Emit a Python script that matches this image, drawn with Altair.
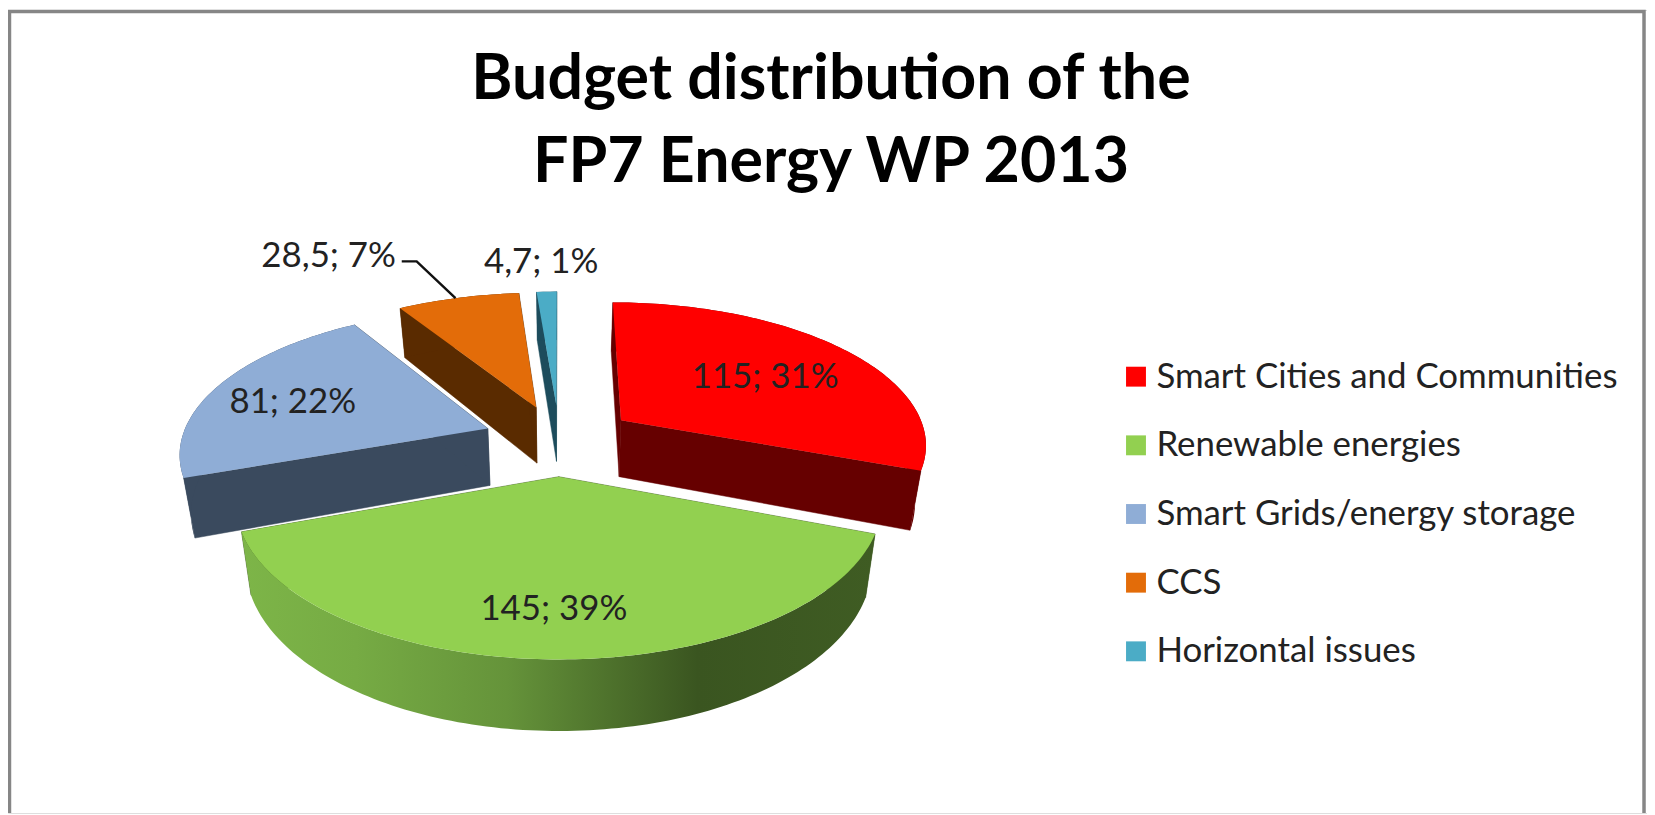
import math
import altair as alt
import pandas as pd

# ---- values
names = ["Smart Cities and Communities", "Renewable energies",
         "Smart Grids/energy storage", "CCS", "Horizontal issues"]
budgets = [115, 145, 81, 28.5, 4.7]
label_texts = ["115; 31%", "145; 39%", "81; 22%", "28,5; 7%", "4,7; 1%"]

# ---- styling
top_colors = ["#ff0000", "#92d050", "#8fadd6", "#e36c09", "#4bacc6"]
wall_colors = ["#660000", "#3f5a23", "#3a4a5e", "#5a2b00", "#1d4c5c"]
FONT = "Lato"
INK = "#222222"

# ---- layout of the tilted, exploded pie (projection of the pie plane to the page)
CX, CY = 562, 440
RX, RY = 308, 142.3
PERSP = 0.155
DEPTH = 58
SHRINK = 0.97
EXPLODE = 0.25
label_radius = [0.63, 0.76, 0.70, 1.35, 1.30]
label_shift = [(0, 3), (-3, 0), (-4, 4), (-107, -10), (-3, -1)]
PAINT_ORDER = [4, 3, 2, 0, 1]


def top_pt(u, v):
    s = 1 / (1 - PERSP * v)
    return CX + RX * u * s, CY + RY * v * s


def low_pt(u, v):
    x, y = top_pt(u, v)
    s = 1 / (1 - PERSP * v)
    return CX + (x - CX) * SHRINK, y + DEPTH * s


total = sum(budgets)
slices = []
start = 0.0
for val in budgets:
    span = val / total * 2 * math.pi
    mid = start + span / 2
    apex = (EXPLODE * math.sin(mid), -EXPLODE * math.cos(mid))
    n = max(3, int(span / 0.02))
    arc = []
    for j in range(n + 1):
        a = start + span * j / n
        arc.append((apex[0] + math.sin(a), apex[1] - math.cos(a)))
    slices.append(dict(mid=mid, apex=apex, arc=arc))
    start += span


def frame_rows(key, name, pts):
    return [dict(poly=key, name=name, i=i, x=p[0], y=p[1]) for i, p in enumerate(pts)]


x_enc = alt.X("x:Q", scale=alt.Scale(domain=[8, 1655], nice=False, zero=False), axis=None)
y_enc = alt.Y("y:Q", scale=alt.Scale(domain=[8, 815], nice=False, zero=False, reverse=True), axis=None)
ord_enc = alt.Order("i:Q")

legend = alt.Legend(
    title=None, orient="none", legendX=1116, legendY=351, symbolType="square",
    symbolSize=400, symbolStrokeWidth=0, labelFont=FONT, labelFontSize=35,
    labelColor=INK, labelOffset=3, rowPadding=33, labelLimit=600, symbolOpacity=1,
)
fill_enc = alt.Fill("name:N", scale=alt.Scale(domain=names, range=top_colors),
                    sort=names, legend=legend)

layers = []

# frame of the picture, open at the bottom
frame = pd.DataFrame([
    dict(poly="f", i=0, x=9.5, y=815), dict(poly="f", i=1, x=9.5, y=9.5),
    dict(poly="f", i=2, x=1652, y=9.5), dict(poly="f", i=3, x=1652, y=815),
])
layers.append(alt.Chart(frame).mark_line(color="#868686", strokeWidth=3.5)
              .encode(x=x_enc, y=y_enc, order=ord_enc))

green_wall = alt.Gradient(
    gradient="linear", x1=0, x2=1, y1=0, y2=0,
    stops=[alt.GradientStop(color="#7db548", offset=0.0),
           alt.GradientStop(color="#76ab44", offset=0.18),
           alt.GradientStop(color="#65933a", offset=0.42),
           alt.GradientStop(color="#3a5520", offset=0.72),
           alt.GradientStop(color="#3f5c23", offset=1.0)],
)

for idx in PAINT_ORDER:
    sl = slices[idx]
    arc, apex = sl["arc"], sl["apex"]
    first, last = arc[0], arc[-1]
    radial = [
        [top_pt(*apex), top_pt(*first), low_pt(*first), low_pt(*apex)],
        [top_pt(*apex), top_pt(*last), low_pt(*last), low_pt(*apex)],
    ]
    outer = [top_pt(*p) for p in arc] + [low_pt(*p) for p in reversed(arc)]
    rows = []
    for k, pts in enumerate(radial):
        rows += frame_rows(f"r{idx}{k}", names[idx], pts)
    layers.append(alt.Chart(pd.DataFrame(rows)).mark_line(
        fill=wall_colors[idx], stroke=wall_colors[idx], strokeWidth=0.5,
        interpolate="linear-closed").encode(x=x_enc, y=y_enc, order=ord_enc, detail="poly:N"))
    outer_fill = green_wall if idx == 1 else wall_colors[idx]
    layers.append(alt.Chart(pd.DataFrame(frame_rows(f"o{idx}", names[idx], outer))).mark_line(
        fill=outer_fill, strokeOpacity=0, interpolate="linear-closed")
        .encode(x=x_enc, y=y_enc, order=ord_enc))
    top = [top_pt(*apex)] + [top_pt(*p) for p in arc]
    layers.append(alt.Chart(pd.DataFrame(frame_rows(f"t{idx}", names[idx], top))).mark_line(
        strokeOpacity=0, interpolate="linear-closed")
        .encode(x=x_enc, y=y_enc, order=ord_enc, fill=fill_enc))

# data labels
lab_rows = []
for idx, sl in enumerate(slices):
    u = sl["apex"][0] + label_radius[idx] * math.sin(sl["mid"])
    v = sl["apex"][1] - label_radius[idx] * math.cos(sl["mid"])
    x, y = top_pt(u, v)
    lab_rows.append(dict(x=x + label_shift[idx][0], y=y + label_shift[idx][1], t=label_texts[idx]))
layers.append(alt.Chart(pd.DataFrame(lab_rows)).mark_text(
    font=FONT, fontSize=35, color=INK, align="center", baseline="middle")
    .encode(x=x_enc, y=y_enc, text="t:N"))

# leader line of the CCS label
ccs_arc = slices[3]["arc"]
end = top_pt(*ccs_arc[int(len(ccs_arc) * 0.47)])
elbow = (end[0] - 39, end[1] - 37)
begin = (elbow[0] - 15, elbow[1])
leader = pd.DataFrame(frame_rows("l", "l", [begin, elbow, end]))
layers.append(alt.Chart(leader).mark_line(color="#111111", strokeWidth=2.5)
              .encode(x=x_enc, y=y_enc, order=ord_enc))

# title
title_lines = ["Budget distribution of the", "FP7 Energy WP 2013"]
title_df = pd.DataFrame([dict(x=835, y=78, t=title_lines[0]), dict(x=835, y=162, t=title_lines[1])])
layers.append(alt.Chart(title_df).mark_text(
    font=FONT, fontSize=63, fontWeight="bold", color="#000000", align="center", baseline="middle")
    .encode(x=x_enc, y=y_enc, text="t:N"))

chart = alt.layer(*layers).properties(
    width=1647, height=807, padding=0, autosize=alt.AutoSizeParams(type="none"),
).configure_view(strokeWidth=0).configure(background="#ffffff")

chart.save("out.html", embed_options={"renderer": "svg", "actions": False})
